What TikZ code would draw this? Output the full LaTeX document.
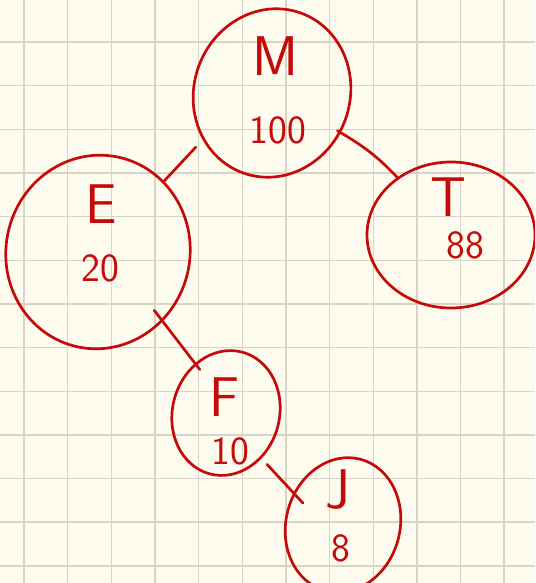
\documentclass[tikz,border=0pt]{standalone}
\usetikzlibrary{shapes.geometric}
\definecolor{paper}{RGB}{254,252,238}
\definecolor{gridc}{RGB}{216,213,200}
\definecolor{ink}{RGB}{196,10,10}
\tikzset{
  circ/.style={ellipse, draw=ink, line width=2.7pt, inner sep=0pt},
  lbl/.style={text=ink, font=\sffamily\fontsize{56}{56}\selectfont, inner sep=0pt},
  num/.style={text=ink, font=\sffamily\fontsize{40}{40}\selectfont, inner sep=0pt},
  edge/.style={draw=ink, line width=2.7pt, line cap=round},
  gridline/.style={draw=gridc, line width=1.4pt}
}
\begin{document}
\begin{tikzpicture}[x=1pt,y=-1pt]
\fill[paper] (0,0) rectangle (535,583);
\useasboundingbox (0,0) rectangle (535,583);
\foreach \k in {0,...,11} {\draw[gridline] ({24+43.65*\k},0) -- ({24+43.65*\k},583);}
\foreach \k in {0,...,12} {\draw[gridline] (0,{42+43.65*\k}) -- (535,{42+43.65*\k});}
\begin{scope}
\clip (0,0) rectangle (535,583);
\node[circ, minimum width=156pt, minimum height=170pt, rotate=-20] (M) at (272,93) {};
\node[circ, minimum width=184pt, minimum height=194pt, rotate=-12] (E) at (98,252) {};
\node[circ, minimum width=168pt, minimum height=146pt] (T) at (451,235) {};
\node[circ, minimum width=107pt, minimum height=126pt, rotate=-15] (F) at (226,413) {};
\node[circ, minimum width=114pt, minimum height=136pt, rotate=-15] (J) at (343,525) {};
\end{scope}
\node[lbl] (Mt) at (275,56) {M};
\node[num] (Mv) at (278,130) {100};
\node[lbl] (Et) at (101,204) {E};
\node[num] (Ev) at (100,268) {20};
\node[lbl] (Tt) at (448,197) {T};
\node[num] (Tv) at (465,245) {88};
\node[lbl] (Ft) at (224,397) {F};
\node[num] (Fv) at (230,451) {10};
\node[lbl] (Jt) at (338,490) {J};
\node[num] (Jv) at (341,548) {8};
\draw[edge, shorten <=10pt] (M.234) -- (E.59);
\draw[edge, shorten <=-4pt] (M.350) to[bend left=8] (T.133);
\draw[edge, shorten <=-14pt, shorten >=-8pt] (E.325) -- (F.137);
\draw[edge, shorten <=8pt, shorten >=-14pt] (F.323) -- (J.162);
\end{tikzpicture}
\end{document}
